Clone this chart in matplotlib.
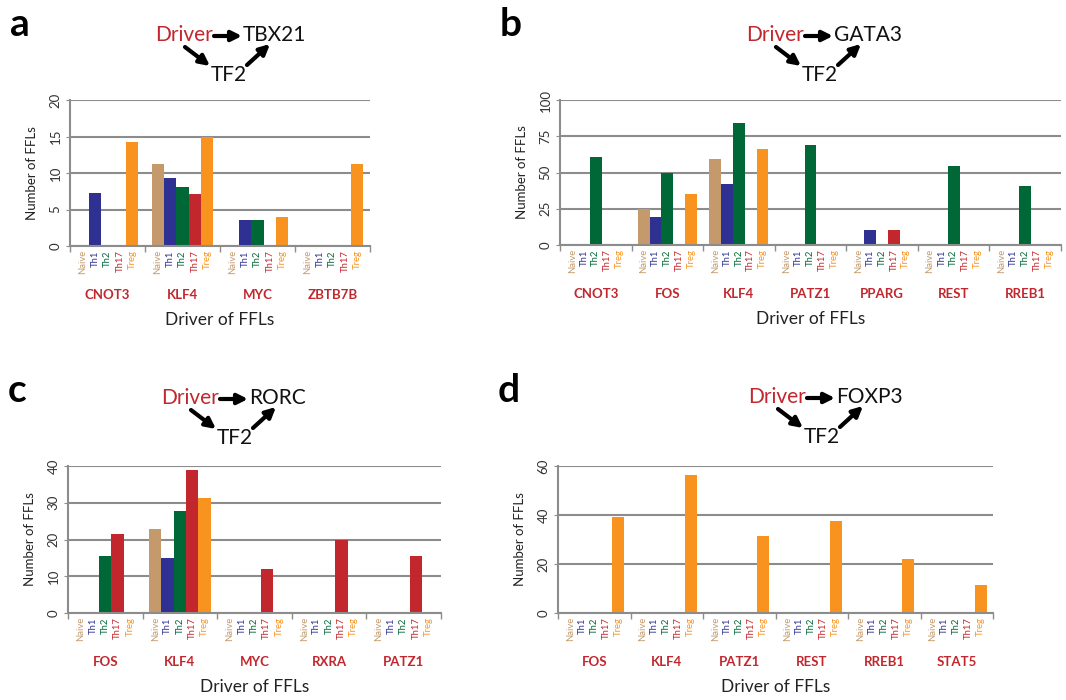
import matplotlib
matplotlib.use("Agg")
import matplotlib.pyplot as plt

plt.rcParams['font.family'] = ['Lato', 'DejaVu Sans']

# Data
cells = ["Naive", "Th1", "Th2", "Th17", "Treg"]
cell_colors = ["#C49A6C", "#2E3192", "#006837", "#C1272D", "#F7931E"]

a_drivers = ["CNOT3", "KLF4", "MYC", "ZBTB7B"]
a_values = [[0, 7.3, 0, 0, 14.3],
            [11.3, 9.3, 8.1, 7.1, 15.0],
            [0, 3.5, 3.5, 0, 4.0],
            [0, 0, 0, 0, 11.3]]

b_drivers = ["CNOT3", "FOS", "KLF4", "PATZ1", "PPARG", "REST", "RREB1"]
b_values = [[0, 0, 61, 0, 0],
            [25, 19, 50, 0, 35],
            [59, 42, 84, 0, 66],
            [0, 0, 69, 0, 0],
            [0, 10.5, 0, 10.5, 0],
            [0, 0, 54.5, 0, 0],
            [0, 0, 41, 0, 0]]

c_drivers = ["FOS", "KLF4", "MYC", "RXRA", "PATZ1"]
c_values = [[0, 0, 15.5, 21.4, 0],
            [22.8, 15.0, 27.8, 39.0, 31.3],
            [0, 0, 0, 11.9, 0],
            [0, 0, 0, 20.0, 0],
            [0, 0, 0, 15.5, 0]]

d_drivers = ["FOS", "KLF4", "PATZ1", "REST", "RREB1", "STAT5"]
d_values = [[0, 0, 0, 0, 39],
            [0, 0, 0, 0, 56.5],
            [0, 0, 0, 0, 31.5],
            [0, 0, 0, 0, 37.5],
            [0, 0, 0, 0, 22],
            [0, 0, 0, 0, 11.5]]

W, H = 1066, 700
fig = plt.figure(figsize=(W / 100, H / 100), dpi=100)
grid_col = "#8C8C8C"
red = "#C1272D"


def panel(box, drivers, values, ymax, ystep, letter, target, motif_xy):
    left, top, right, bottom = box
    ax = fig.add_axes([left / W, 1 - bottom / H, (right - left) / W, (bottom - top) / H])
    w = 0.165
    for i, vals in enumerate(values):
        for j, v in enumerate(vals):
            if v > 0:
                ax.bar(i + (j - 2) * w, v, width=w, color=cell_colors[j], linewidth=0)
            ax.annotate(cells[j], xy=(i + (j - 2) * w, 0), xycoords=('data', 'axes fraction'),
                        xytext=(0, -3), textcoords='offset points', rotation=90,
                        ha='center', va='top', fontsize=6.8, color=cell_colors[j])
        ax.annotate(drivers[i], xy=(i, 0), xycoords=('data', 'axes fraction'),
                    xytext=(0, -35), textcoords='offset points', ha='center', va='center',
                    fontsize=9.5, fontweight='bold', color=red)
    n = len(drivers)
    ax.set_xlim(-0.5, n - 0.5)
    ax.set_ylim(0, ymax)
    ax.set_yticks(range(0, ymax + 1, ystep))
    ax.set_xticks([k - 0.5 for k in range(n + 1)])
    ax.set_xticklabels([])
    ax.yaxis.grid(True, color=grid_col, linewidth=1.5)
    ax.set_axisbelow(True)
    for s in ["top", "right"]:
        ax.spines[s].set_visible(False)
    for s in ["left", "bottom"]:
        ax.spines[s].set_color(grid_col)
        ax.spines[s].set_linewidth(1.5)
    ax.tick_params(axis='x', length=4, color=grid_col, width=1)
    ax.tick_params(axis='y', length=3, color=grid_col, labelsize=9.5, labelcolor="#333333", pad=3)
    for t in ax.get_yticklabels():
        t.set_rotation(90)
        t.set_va('center')
    ax.annotate("Number of FFLs", xy=(0, 0.5), xycoords='axes fraction', xytext=(-27, 0),
                textcoords='offset points', rotation=90, ha='center', va='center',
                fontsize=9.5, color="#222222")
    ax.annotate("Driver of FFLs", xy=(0.5, 0), xycoords='axes fraction', xytext=(0, -53),
                textcoords='offset points', ha='center', va='center',
                fontsize=12.5, color="#222222")

    # panel letter
    fig.text((left - 60) / W, 1 - (top - 75) / H, letter, fontsize=28, fontweight='bold',
             ha='left', va='center')

    # feed-forward loop motif
    cx, cy = motif_xy
    fy = lambda y: H - y
    fig.text((cx - 15) / W, fy(cy) / H, "Driver", color=red, fontsize=15,
             ha='right', va='center')
    fig.text((cx + 15) / W, fy(cy) / H, target, color="#111111", fontsize=15,
             ha='left', va='center')
    fig.text((cx + 1) / W, fy(cy + 40) / H, "TF2", color="#111111", fontsize=15,
             ha='center', va='center')
    arrows = [((cx - 14, cy + 1), (cx + 14, cy + 1)),
              ((cx - 43, cy + 12), (cx - 18, cy + 31)),
              ((cx + 19, cy + 30), (cx + 42, cy + 9))]
    for (x0, y0), (x1, y1) in arrows:
        fig.add_artist(matplotlib.patches.FancyArrowPatch(
            (x0 / W, fy(y0) / H), (x1 / W, fy(y1) / H), transform=fig.transFigure,
            arrowstyle='-|>,head_width=3,head_length=6', mutation_scale=1,
            linewidth=3, color='black', shrinkA=0, shrinkB=0))
    return ax


panel((70, 100, 370, 246), a_drivers, a_values, 20, 5, "a", "TBX21", (228, 35))
panel((560, 100, 1061, 245), b_drivers, b_values, 100, 25, "b", "GATA3", (819, 35))
panel((68, 466, 441, 613), c_drivers, c_values, 40, 10, "c", "RORC", (234, 398))
panel((558, 466, 993, 613), d_drivers, d_values, 60, 20, "d", "FOXP3", (821, 397))

fig.savefig("out.png", dpi=100)
